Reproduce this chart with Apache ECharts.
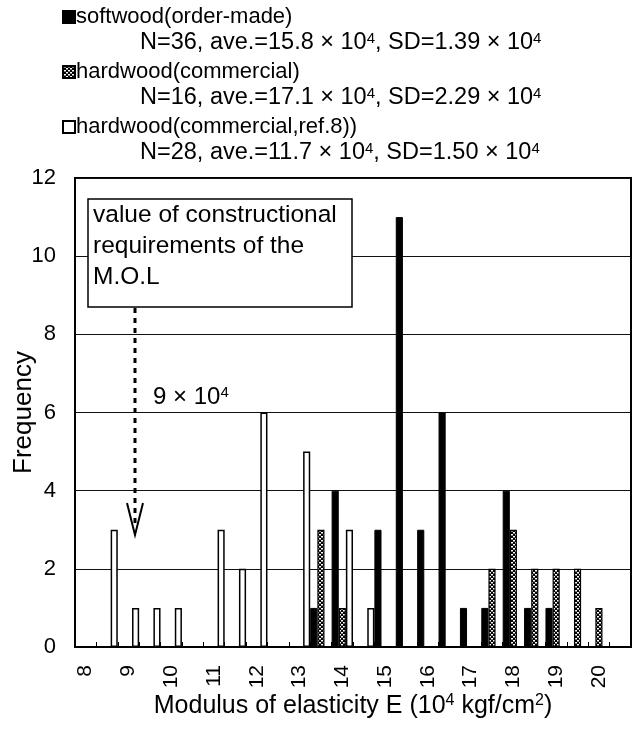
<!DOCTYPE html>
<html>
<head>
<meta charset="utf-8">
<script src="https://cdn.jsdelivr.net/npm/echarts@6/dist/echarts.min.js"></script>
<style>
  html, body { margin: 0; padding: 0; background: #fff; }
  #chart { width: 637px; height: 733px; }
</style>
</head>
<body>
<div id="chart"></div>
<script>
// Histogram bins of the modulus of elasticity (10^4 kgf/cm^2), 0.5 wide
const bins = ['8', '8.5', '9', '9.5', '10', '10.5', '11', '11.5', '12', '12.5',
              '13', '13.5', '14', '14.5', '15', '15.5', '16', '16.5', '17', '17.5',
              '18', '18.5', '19', '19.5', '20', '20.5'];

// Frequencies per bin
const softwoodOrderMade = [0, 0, 0, 0, 0, 0, 0, 0, 0, 0,
                           0, 1, 4, 0, 3, 11, 3, 6, 1, 1,
                           4, 1, 1, 0, 0, 0];
const hardwoodCommercial = [0, 0, 0, 0, 0, 0, 0, 0, 0, 0,
                            0, 3, 1, 0, 0, 0, 0, 0, 0, 2,
                            3, 2, 2, 2, 1, 0];
const hardwoodRef8 = [0, 3, 1, 1, 1, 0, 3, 2, 6, 0,
                      5, 0, 3, 1, 0, 0, 0, 0, 0, 0,
                      0, 0, 0, 0, 0, 0];

const seriesNames = ['softwood(order-made)', 'hardwood(commercial)', 'hardwood(commercial,ref.8))'];
// Sample statistics: N, average, SD (x10^4)
const sampleN = [36, 16, 28];
const sampleAve = ['15.8', '17.1', '11.7'];
const sampleSD = ['1.39', '2.29', '1.50'];

const yTicks = { min: 0, max: 12, interval: 2 };
const requirementValue = '9';

const FONT = '"Liberation Sans", Arial, sans-serif';

// Dotted fill for the commercial hardwood bars
function dotPattern() {
  const c = document.createElement('canvas');
  c.width = 4; c.height = 4;
  const g = c.getContext('2d');
  g.fillStyle = '#000';
  g.fillRect(0, 0, 4, 4);
  g.fillStyle = '#fff';
  g.fillRect(1, 0, 2, 1.5);
  g.fillRect(0, 2, 1, 1.5);
  g.fillRect(3, 2, 1, 1.5);
  return c;
}

const chart = echarts.init(document.getElementById('chart'), null, { renderer: 'canvas' });

const supStyle = { fontSize: 15, fontFamily: FONT, verticalAlign: 'top', lineHeight: 14 };

function statText(i) {
  return 'N=' + sampleN[i] + ', ave.=' + sampleAve[i] + ' × 10{sup|4}, SD=' +
         sampleSD[i] + ' × 10{sup|4}';
}

const statGraphics = sampleN.map((n, i) => ({
  type: 'text',
  left: 140,
  top: 31 + i * 55,
  style: {
    text: statText(i),
    font: '23.5px ' + FONT,
    fill: '#000',
    rich: { sup: Object.assign({ fill: '#000' }, supStyle) },
    lineHeight: 24
  }
}));

chart.setOption({
  animation: false,
  backgroundColor: '#fff',
  textStyle: { fontFamily: FONT, color: '#000' },
  legend: {
    orient: 'vertical',
    left: 57,
    top: 1,
    icon: 'rect',
    itemWidth: 12,
    itemHeight: 12,
    itemGap: 33,
    selectedMode: false,
    data: seriesNames,
    textStyle: { fontSize: 22, color: '#000', fontFamily: FONT, lineHeight: 22, padding: [0, 0, 0, -4] }
  },
  grid: {
    left: 75, right: 6, top: 178, bottom: 86,
    show: true, borderColor: '#000', borderWidth: 2,
    containLabel: false, outerBoundsMode: 'none'
  },
  xAxis: {
    type: 'category',
    data: bins,
    name: 'Modulus of elasticity E (10{sup|4} kgf/cm{sup|2})',
    nameLocation: 'middle',
    nameGap: 46,
    nameMoveOverlap: false,
    nameTextStyle: {
      fontSize: 25, color: '#000', fontFamily: FONT, lineHeight: 26,
      rich: { sup: Object.assign({ color: '#000' }, supStyle, { fontSize: 16 }) }
    },
    axisLine: { lineStyle: { color: '#000', width: 2 } },
    axisTick: { show: true, inside: true, length: 5, interval: 0, lineStyle: { color: '#000', width: 1 } },
    axisLabel: {
      interval: 1, rotate: 90, margin: 18, fontSize: 21, color: '#000', fontFamily: FONT
    },
    splitLine: { show: false }
  },
  yAxis: {
    type: 'value',
    min: yTicks.min, max: yTicks.max, interval: yTicks.interval,
    name: 'Frequency',
    nameLocation: 'middle',
    nameGap: 38,
    nameMoveOverlap: false,
    nameRotate: 90,
    nameTextStyle: { fontSize: 26, color: '#000', fontFamily: FONT },
    axisLine: { show: true, lineStyle: { color: '#000', width: 2 } },
    axisTick: { show: false },
    axisLabel: { fontSize: 22, color: '#000', fontFamily: FONT, margin: 19 },
    splitLine: { show: true, lineStyle: { color: '#111', width: 1 } }
  },
  series: [
    {
      name: seriesNames[0], type: 'bar', data: softwoodOrderMade,
      barGap: '0%', barCategoryGap: '0%',
      itemStyle: { color: '#000', borderColor: '#000', borderWidth: 1 }
    },
    {
      name: seriesNames[1], type: 'bar', data: hardwoodCommercial,
      barGap: '0%', barCategoryGap: '0%',
      itemStyle: { color: { image: dotPattern(), repeat: 'repeat' }, borderColor: '#000', borderWidth: 1.2 }
    },
    {
      name: seriesNames[2], type: 'bar', data: hardwoodRef8,
      barGap: '0%', barCategoryGap: '0%',
      itemStyle: { color: '#fff', borderColor: '#000', borderWidth: 1.5 }
    }
  ],
  graphic: statGraphics.concat([
    {
      type: 'rect',
      shape: { x: 88, y: 199, width: 264, height: 108 },
      style: { fill: '#fff', stroke: '#000', lineWidth: 1.5 },
      z: 100
    },
    {
      type: 'text',
      left: 93, top: 200,
      style: {
        text: 'value of constructional\nrequirements of the\nM.O.L',
        font: '24.5px ' + FONT, fill: '#000', lineHeight: 31
      },
      z: 101
    },
    {
      type: 'line',
      shape: { x1: 135, y1: 308, x2: 135, y2: 528 },
      style: { stroke: '#000', lineWidth: 3, lineDash: [5, 5] },
      z: 100
    },
    {
      type: 'polyline',
      shape: { points: [[127, 503], [135, 535], [143, 503]] },
      style: { stroke: '#000', lineWidth: 2, fill: null },
      z: 100
    },
    {
      type: 'text',
      left: 153, top: 385,
      style: {
        text: requirementValue + ' × 10{sup|4}',
        font: '24px ' + FONT, fill: '#000', lineHeight: 24,
        rich: { sup: Object.assign({ fill: '#000' }, supStyle) }
      },
      z: 100
    }
  ])
});
</script>
</body>
</html>
